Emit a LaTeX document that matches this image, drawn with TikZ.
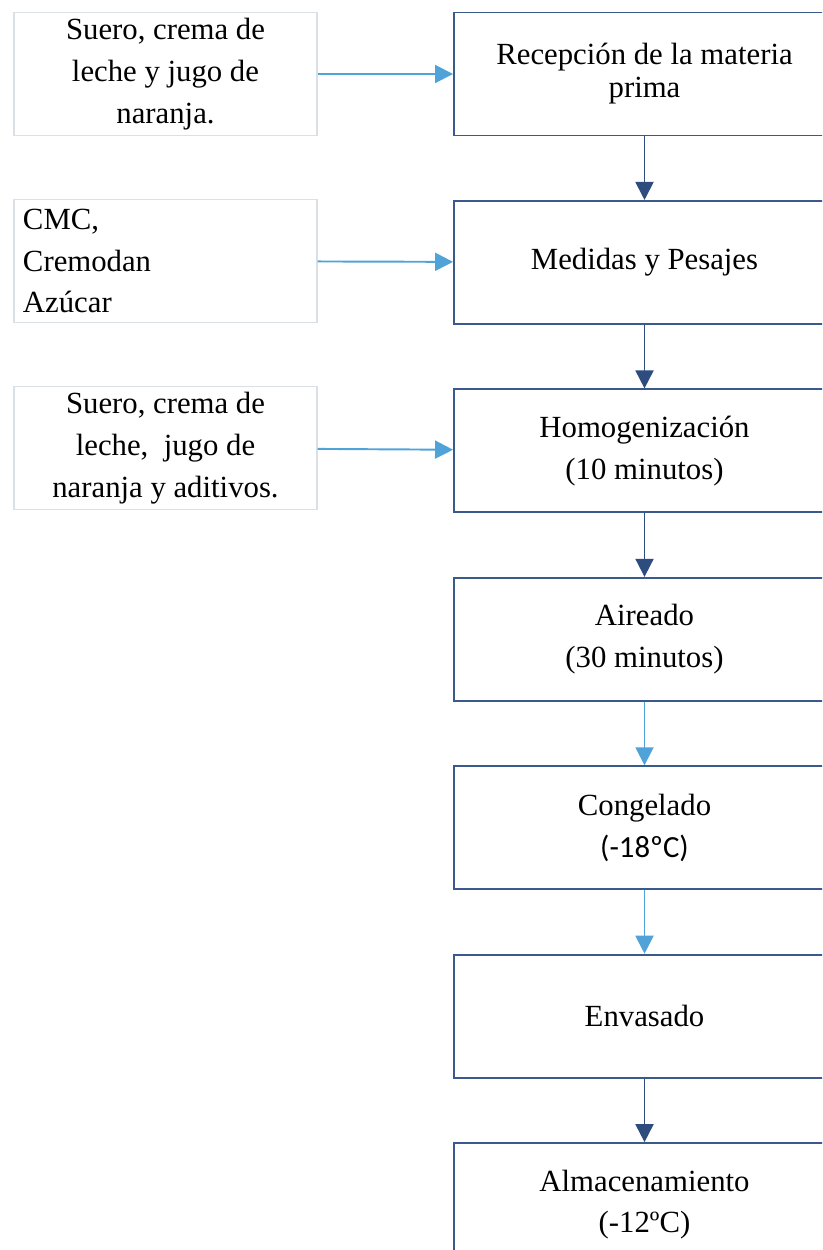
\documentclass[tikz,border=0pt]{standalone}
\usepackage{fontspec}
\setmainfont{Liberation Serif}
\newfontfamily\calibrifont{Carlito}
\usetikzlibrary{arrows.meta,positioning}

\definecolor{boxblue}{RGB}{58,90,140}
\definecolor{darkarrow}{RGB}{46,76,126}
\definecolor{lightarrow}{RGB}{79,163,217}
\definecolor{inputgray}{RGB}{218,224,230}

\tikzset{
	paso/.style={draw=boxblue, line width=1.1pt, minimum width=7.62cm, minimum height=2.46cm,
		inner sep=0pt, align=center, font=\fontsize{17.5}{23.8}\selectfont},
	entrada/.style={draw=inputgray, line width=0.8pt, minimum width=6.06cm, minimum height=2.47cm,
		inner sep=0pt, align=center, font=\fontsize{17.5}{23.8}\selectfont},
	flecha/.style={draw=darkarrow, line width=1.1pt, -{Triangle[length=0.36cm,width=0.36cm]}},
	flechaclara/.style={draw=lightarrow, line width=1.1pt, -{Triangle[length=0.36cm,width=0.36cm]}}
}

\begin{document}
\begin{tikzpicture}
	\useasboundingbox (0,0) rectangle (16.44,-25);
	\clip (0,0) rectangle (16.44,-25);
	\fill[white] (0,0) rectangle (16.44,-25);
	% proceso
		\node[paso, font=\fontsize{17.5}{18.8}\selectfont] (recepcion) at (12.89,-1.48) {Recepción de la materia\\prima};
		\node[paso, below=1.27cm of recepcion] (medidas) {Medidas y Pesajes};
		\node[paso, below=1.27cm of medidas] (homog) {Homogenización\\(10 minutos)};
		\node[paso, below=1.27cm of homog] (aireado) {Aireado\\(30 minutos)};
		\node[paso, below=1.27cm of aireado] (congelado) {Congelado\\{\calibrifont(-18ºC)}};
		\node[paso, below=1.27cm of congelado] (envasado) {Envasado};
		\node[paso, below=1.27cm of envasado] (almacen) {Almacenamiento\\(-12ºC)};
	% insumos
		\node[entrada] (suero) at (3.31,-1.48) {Suero, crema de\\leche y jugo de\\naranja.};
		\node[entrada, align=left, text width=5.7cm] (cmc) at (3.31,-5.22) {CMC,\\Cremodan\\Azúcar};
		\node[entrada] (aditivos) at (3.31,-8.96) {Suero, crema de\\leche,\ \ jugo de\\naranja y aditivos.};
	% flechas
		\draw[flechaclara] (suero) -- (recepcion);
		\draw[flechaclara] (cmc) -- (medidas);
		\draw[flechaclara] (aditivos) -- (homog);
		\draw[flecha] (recepcion) -- (medidas);
		\draw[flecha] (medidas) -- (homog);
		\draw[flecha] (homog) -- (aireado);
		\draw[flechaclara] (aireado) -- (congelado);
		\draw[flechaclara] (congelado) -- (envasado);
		\draw[flecha] (envasado) -- (almacen);
\end{tikzpicture}
\end{document}
